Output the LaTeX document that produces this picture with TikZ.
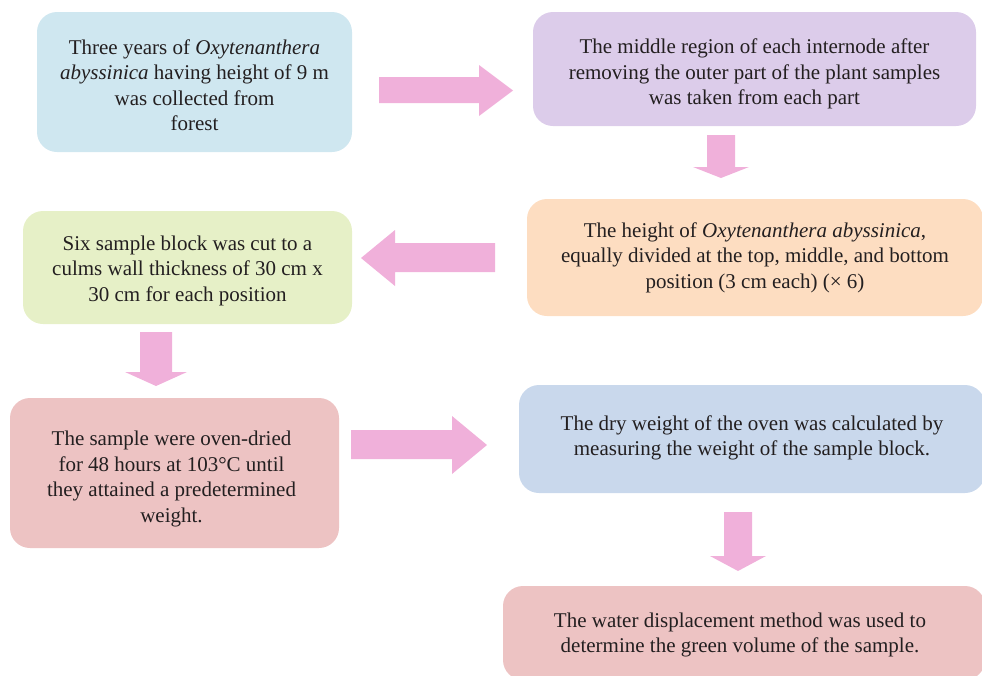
\documentclass[tikz,border=0pt]{standalone}
\usepackage{fontspec}
\setmainfont{Liberation Serif}
\definecolor{cBlue}{HTML}{CFE7F0}
\definecolor{cPurple}{HTML}{DCCCEA}
\definecolor{cOrange}{HTML}{FDDDC1}
\definecolor{cGreen}{HTML}{E6F0C7}
\definecolor{cRed}{HTML}{EDC3C3}
\definecolor{cSteel}{HTML}{C9D8EC}
\definecolor{cArrow}{HTML}{F0B0DA}
\definecolor{cText}{HTML}{231F20}
\tikzset{
  box/.style={rounded corners=20pt, inner sep=0pt, draw=none},
  txt/.style={inner sep=0pt, align=center, text=cText,
    font=\fontsize{21}{25.5}\selectfont},
  blockarrow/.style={fill=cArrow, draw=none}
}
\begin{document}
\begin{tikzpicture}[x=1pt,y=-1pt]
\useasboundingbox (0,0) rectangle (982,675);
\clip (0,0) rectangle (982,675);
% boxes
\node[box, fill=cBlue, minimum width=315pt, minimum height=140pt] (b1) at (194.5,82) {};
\node[txt] (t1) at ([yshift=-3pt]b1.center)
  {Three years of \textit{Oxytenanthera}\\ \textit{abyssinica} having height of 9 m\\ was collected from\\ forest};
\node[box, fill=cPurple, minimum width=443pt, minimum height=114pt] (b2) at (754.5,69) {};
\node[txt] (t2) at ([yshift=-5pt]b2.center)
  {The middle region of each internode after\\ removing the outer part of the plant samples\\ was taken from each part};
\node[box, fill=cOrange, minimum width=456pt, minimum height=117pt] (b3) at (755,257.5) {};
\node[txt] (t3) at ([yshift=0pt]b3.center)
  {The height of \textit{Oxytenanthera abyssinica},\\ equally divided at the top, middle, and bottom\\ position (3 cm each) (× 6)};
\node[box, fill=cGreen, minimum width=329pt, minimum height=113pt] (b4) at (187.5,267.5) {};
\node[txt] (t4) at ([yshift=-3pt]b4.center)
  {Six sample block was cut to a\\ culms wall thickness of 30 cm x\\ 30 cm for each position};
\node[box, fill=cRed, minimum width=329pt, minimum height=150pt] (b5) at (174.5,473) {};
\node[txt] (t5) at ([xshift=-3pt,yshift=-6pt]b5.center)
  {The sample were oven-dried\\ for 48 hours at 103°C until\\ they attained a predetermined\\ weight.};
\node[box, fill=cSteel, minimum width=466pt, minimum height=108pt] (b6) at (752,439) {};
\node[txt] (t6) at ([yshift=1pt]b6.center)
  {The dry weight of the oven was calculated by\\ measuring the weight of the sample block.};
\node[box, fill=cRed, minimum width=482pt, minimum height=94pt] (b7) at (744,633) {};
\node[txt] (t7) at ([xshift=-4pt,yshift=-2pt]b7.center)
  {The water displacement method was used to\\ determine the green volume of the sample.};
% block arrows
\fill[blockarrow] (379,77) -- (479,77) -- (479,65) -- (513,90.5) -- (479,116) -- (479,103) -- (379,103) -- cycle;
\fill[blockarrow] (707,135) -- (735,135) -- (735,167) -- (749,167) -- (721,178) -- (693,167) -- (707,167) -- cycle;
\fill[blockarrow] (495,243) -- (395,243) -- (395,230) -- (361,258) -- (395,286) -- (395,272) -- (495,272) -- cycle;
\fill[blockarrow] (140,332) -- (172,332) -- (172,372) -- (187,372) -- (156,386) -- (125,372) -- (140,372) -- cycle;
\fill[blockarrow] (351,430) -- (452,430) -- (452,416) -- (487,445) -- (452,474) -- (452,459) -- (351,459) -- cycle;
\fill[blockarrow] (724,512) -- (752,512) -- (752,556) -- (766,556) -- (738,571) -- (710,556) -- (724,556) -- cycle;
\end{tikzpicture}
\end{document}
